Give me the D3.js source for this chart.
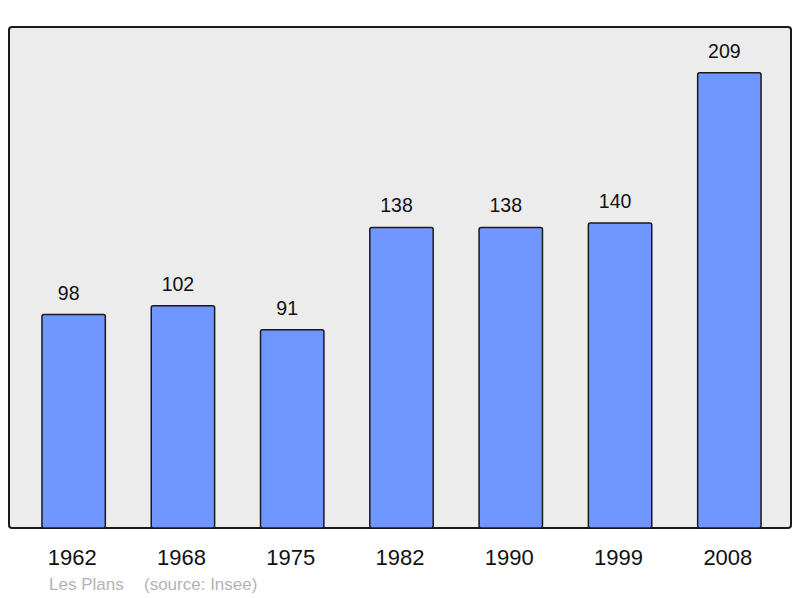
<!DOCTYPE html>
<html>
<head>
<meta charset="utf-8">
<script src="https://cdn.jsdelivr.net/npm/d3@7"></script>
<style>
  body { margin: 0; background: #fff; }
  text { font-family: "Liberation Sans", Arial, sans-serif; }
</style>
</head>
<body>
<div id="chart"></div>
<script>
const width = 800,
      height = 598;

// population by census year
const years = ["1962", "1968", "1975", "1982", "1990", "1999", "2008"];
const population = [98, 102, 91, 138, 138, 140, 209];
const place = "Les Plans";
const source = "(source: Insee)";

const frame = { left: 9, top: 27, right: 791, bottom: 528 };

const data = years.map((y, i) => ({ year: y, value: population[i] }));

const x = d3.scaleBand()
            .domain(years)
            .range([19, 784])
            .paddingInner(0.42)
            .paddingOuter(0.21);

const y = d3.scaleLinear()
            .domain([0, 230])
            .range([frame.bottom, frame.top]);

const svg = d3.select("#chart")
              .append("svg")
                .attr("width", width)
                .attr("height", height);

svg.append("rect")
    .attr("x", frame.left)
    .attr("y", frame.top)
    .attr("width", frame.right - frame.left)
    .attr("height", frame.bottom - frame.top)
    .attr("rx", 3)
    .attr("fill", "#ececec")
    .attr("stroke", "#1a1a1a")
    .attr("stroke-width", 2);

svg.append("g")
  .selectAll("rect")
  .data(data)
  .enter()
  .append("rect")
    .attr("x", d => x(d.year))
    .attr("y", d => y(d.value))
    .attr("width", x.bandwidth())
    .attr("height", d => y(0) - y(d.value))
    .attr("rx", 2)
    .attr("fill", "#7096ff")
    .attr("stroke", "#1a1a1a")
    .attr("stroke-width", 1.5);

// value labels sit a little left of the bar centre
svg.append("g")
  .selectAll("text")
  .data(data)
  .enter()
  .append("text")
    .attr("x", d => x(d.year) + x.bandwidth() / 2 - 5)
    .attr("y", d => y(d.value) - 15)
    .attr("text-anchor", "middle")
    .style("font-size", "19.5px")
    .attr("fill", "#111")
    .text(d => d.value);

// year labels under the frame
const xAxis = d3.axisBottom(x).tickSize(0).tickPadding(0);
const gx = svg.append("g")
    .attr("transform", `translate(-1.5,${frame.bottom})`)
    .call(xAxis);
gx.select(".domain").remove();
gx.selectAll("text")
    .attr("dy", null)
    .attr("y", 37)
    .style("font-size", "22px")
    .style("font-family", "'Liberation Sans', Arial, sans-serif")
    .attr("fill", "#111");

svg.append("text")
    .attr("x", 49)
    .attr("y", 590)
    .attr("fill", "#b3b3b3")
    .style("font-size", "17px")
    .text(place);

svg.append("text")
    .attr("x", 144)
    .attr("y", 590)
    .attr("fill", "#b3b3b3")
    .style("font-size", "17px")
    .text(source);
</script>
</body>
</html>
